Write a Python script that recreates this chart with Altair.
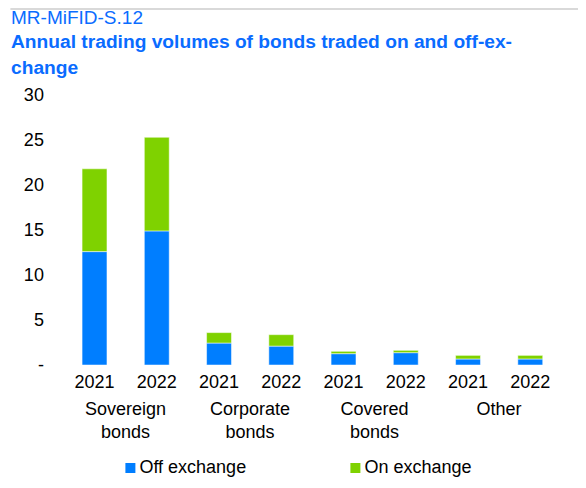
import altair as alt
import pandas as pd

groups = ["Sovereign bonds", "Corporate bonds", "Covered bonds", "Other"]
group_labels = ["Sovereign\nbonds", "Corporate\nbonds", "Covered\nbonds", "Other"]
years = ["2021", "2022"]
off_exchange = [12.6, 14.9, 2.44, 2.1, 1.26, 1.37, 0.67, 0.67]
on_exchange = [9.2, 10.4, 1.16, 1.27, 0.26, 0.26, 0.40, 0.40]
series = ["Off exchange", "On exchange"]
colors = ["#007eff", "#7fd200"]
y_ticks = [0, 5, 10, 15, 20, 25, 30]

FONT = "Liberation Sans"
TITLE_BLUE = "#0a6cff"

rows = []
keys = []
i = 0
for g in groups:
    for yr in years:
        key = g + "|" + yr
        keys.append(key)
        rows.append({"key": key, "group": g, "year": yr, "series": series[0], "value": off_exchange[i], "order": 0})
        rows.append({"key": key, "group": g, "year": yr, "series": series[1], "value": on_exchange[i], "order": 1})
        i += 1
df = pd.DataFrame(rows)

lab_df = pd.DataFrame({
    "key": [g + "|" + years[0] for g in groups],
    "label": group_labels,
})

W, H = 498, 270

xscale = alt.Scale(domain=keys, paddingInner=0.6, paddingOuter=0.3)

bars = alt.Chart(df).mark_bar(stroke="white", strokeWidth=0.5).encode(
    x=alt.X("key:N", scale=xscale, sort=keys, title=None,
            axis=alt.Axis(labelExpr="split(datum.label, '|')[1]", labelAngle=0,
                          ticks=False, domain=False, labelPadding=8,
                          labelFontSize=18, labelFont=FONT, labelColor="#000000")),
    y=alt.Y("value:Q", stack="zero", title=None,
            scale=alt.Scale(domain=[0, 30], nice=False),
            axis=alt.Axis(values=y_ticks, grid=False, ticks=False, domain=False,
                          labelExpr="datum.value == 0 ? '-' : datum.label",
                          labelPadding=20, labelFontSize=18, labelFont=FONT,
                          labelColor="#000000")),
    color=alt.Color("series:N", scale=alt.Scale(domain=series, range=colors),
                    legend=alt.Legend(title=None, orient="none", direction="horizontal",
                                      legendX=58, legendY=364, symbolType="square",
                                      symbolSize=100, symbolStrokeWidth=0,
                                      labelFontSize=18, labelFont=FONT,
                                      labelColor="#000000", labelOffset=0,
                                      columnPadding=100)),
    order=alt.Order("order:Q"),
)

glabels = alt.Chart(lab_df).mark_text(
    baseline="top", align="center", dx=31, lineBreak="\n", lineHeight=23,
    fontSize=18, font=FONT, color="#000000"
).encode(
    x=alt.X("key:N", scale=xscale, sort=keys),
    y=alt.value(306),
    text="label:N",
)

topline = alt.Chart(pd.DataFrame({"k": [0]})).mark_rule(color="#d9d9d9", strokeWidth=2).encode(
    x=alt.value(-53), x2=alt.value(W + 40), y=alt.value(-86)
)

chart = alt.layer(topline, bars, glabels).properties(
    width=W, height=H,
    padding={"left": 55.4, "top": 87, "right": 16.6, "bottom": 115},
    autosize=alt.AutoSizeParams(type="none"),
    title=alt.TitleParams(
        text="MR-MiFID-S.12",
        subtitle=["Annual trading volumes of bonds traded on and off-ex-", "change"],
        anchor="start", frame="group", dx=-52.4,
        font=FONT, fontSize=19, fontWeight="normal", color=TITLE_BLUE,
        subtitleFont=FONT, subtitleFontSize=19.2, subtitleFontWeight="bold",
        subtitleColor=TITLE_BLUE, subtitleLineHeight=26, subtitlePadding=5,
        offset=-70,
    ),
).configure_view(stroke=None)

chart.save("out.html", embed_options={"renderer": "svg", "actions": False})
